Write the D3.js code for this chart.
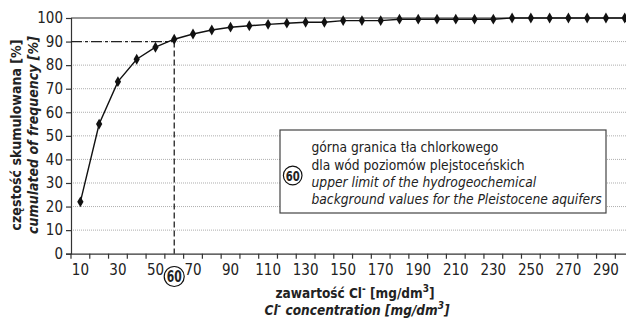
<!DOCTYPE html>
<html>
<head>
  <meta charset="utf-8">
  <script src="https://d3js.org/d3.v7.min.js"></script>
  <style>
    body { margin: 0; background: #fff; }
    svg { display: block; }
    text { font-family: "Liberation Sans Narrow", "DejaVu Sans Condensed", sans-serif; fill: #222; }
  </style>
</head>
<body>

  <svg width="626" height="323"></svg>

  <script>
    // chloride concentration classes [mg/dm3]
    const concentration = [10, 20, 30, 40, 50, 60, 70, 80, 90, 100, 110, 120, 130, 140, 150,
      160, 170, 180, 190, 200, 210, 220, 230, 240, 250, 260, 270, 280, 290, 300];
    // cumulated frequency [%]
    const cumulated = [22, 55, 73, 82.5, 87.6, 91, 93.2, 94.9, 96.1, 96.7, 97.3, 97.8, 98.2, 98.2, 98.9,
      98.9, 98.9, 99.5, 99.5, 99.5, 99.5, 99.5, 99.5, 100, 100, 100, 100, 100, 100, 100];
    const xTickLabels = [10, 30, 50, 70, 90, 110, 130, 150, 170, 190, 210, 230, 250, 270, 290];
    const yTicks = [0, 10, 20, 30, 40, 50, 60, 70, 80, 90, 100];
    const limitValue = 60;
    const limitFreq = 90;

    const svg = d3.select("svg");
    const plotLeft = 71, plotTop = 18, plotBottom = 253.7, step = 18.77;

    const x = d3.scaleBand()
      .domain(concentration)
      .range([plotLeft, plotLeft + step * concentration.length])
      .padding(0);
    const y = d3.scaleLinear().domain([0, 100]).range([plotBottom, plotTop]);
    const cx = d => x(d) + x.bandwidth() / 2;

    // dotted grid
    svg.append("g")
      .selectAll("line")
      .data(yTicks.filter(t => t > 0 && t < 100))
      .join("line")
      .attr("x1", plotLeft).attr("x2", 626)
      .attr("y1", d => y(d)).attr("y2", d => y(d))
      .attr("stroke", "#999")
      .attr("stroke-width", 0.8)
      .attr("stroke-dasharray", "1,1");

    // top line at 100
    svg.append("line")
      .attr("x1", plotLeft).attr("x2", 626)
      .attr("y1", y(100)).attr("y2", y(100))
      .attr("stroke", "#333").attr("stroke-width", 1.2);

    // y axis
    const yAxis = svg.append("g")
      .attr("transform", `translate(${plotLeft},0)`)
      .call(d3.axisLeft(y).tickValues(yTicks).tickSize(5).tickPadding(3));
    yAxis.attr("font-family", null);
    yAxis.select(".domain").attr("stroke", "#333").attr("stroke-width", 1.2);
    yAxis.selectAll(".tick line").attr("stroke", "#333").attr("stroke-width", 1.2);
    yAxis.selectAll(".tick text").attr("font-size", 15).attr("fill", "#333");

    // x axis: ticks on class boundaries, labels every other class
    const xAxis = svg.append("g")
      .attr("transform", `translate(0,${plotBottom})`)
      .call(d3.axisBottom(x).tickSize(0).tickFormat(d => xTickLabels.includes(d) && d !== limitValue ? d : ""));
    xAxis.attr("font-family", null);
    xAxis.select(".domain").attr("stroke", "#333").attr("stroke-width", 1.2);
    xAxis.selectAll(".tick text")
      .attr("font-size", 15).attr("fill", "#333").attr("y", 11);
    xAxis.append("g")
      .selectAll("line")
      .data(concentration)
      .join("line")
      .attr("x1", d => x(d)).attr("x2", d => x(d))
      .attr("y1", 0).attr("y2", 5)
      .attr("stroke", "#333").attr("stroke-width", 1.2);

    // circled 60 marker
    function circled(g, r, fs) {
      g.append("circle").attr("r", r).attr("fill", "#fff").attr("stroke", "#111").attr("stroke-width", 1.2);
      g.append("text").attr("text-anchor", "middle").attr("y", fs * 0.36)
        .attr("transform", "scale(0.8,1)")
        .attr("font-size", fs).attr("font-weight", "bold").attr("fill", "#111").text(limitValue);
    }
    circled(svg.append("g").attr("transform", `translate(${cx(limitValue)},276.5)`), 10, 15);

    // limit lines
    svg.append("line")
      .attr("x1", plotLeft).attr("x2", cx(limitValue))
      .attr("y1", y(limitFreq)).attr("y2", y(limitFreq))
      .attr("stroke", "#222").attr("stroke-width", 1.3)
      .attr("stroke-dasharray", "11,3,3,3");
    svg.append("line")
      .attr("x1", cx(limitValue)).attr("x2", cx(limitValue))
      .attr("y1", y(limitFreq)).attr("y2", plotBottom)
      .attr("stroke", "#222").attr("stroke-width", 1.3)
      .attr("stroke-dasharray", "6,3");

    // annotation box
    const box = svg.append("g");
    box.append("rect")
      .attr("x", 280).attr("y", 130).attr("width", 326).attr("height", 83)
      .attr("fill", "#fff").attr("stroke", "#444").attr("stroke-width", 1.2);
    circled(box.append("g").attr("transform", "translate(292.7,175.5)"), 9.3, 14);
    const lines = [
      ["górna granica tła chlorkowego", "normal", 151.5],
      ["dla wód poziomów plejstoceńskich", "normal", 169.5],
      ["upper limit of the hydrogeochemical", "italic", 186.5],
      ["background values for the Pleistocene aquifers", "italic", 203.5]
    ];
    box.selectAll("text.note")
      .data(lines)
      .join("text")
      .attr("class", "note")
      .attr("x", 311.5).attr("y", d => d[2])
      .attr("font-size", 13.7).attr("font-style", d => d[1])
      .text(d => d[0]);

    // data line and diamonds
    svg.append("path")
      .datum(concentration.map((c, i) => [cx(c), y(cumulated[i])]))
      .attr("fill", "none").attr("stroke", "#111").attr("stroke-width", 1.4)
      .attr("d", d3.line());
    svg.append("g")
      .selectAll("path")
      .data(concentration)
      .join("path")
      .attr("transform", (d, i) => `translate(${cx(d)},${y(cumulated[i])})`)
      .attr("d", d3.symbol(d3.symbolDiamond, 34))
      .attr("fill", "#111");

    // axis titles
    const yt = svg.append("text")
      .attr("transform", "translate(0,135) rotate(-90)")
      .attr("text-anchor", "middle").attr("font-size", 14).attr("font-weight", "bold");
    yt.append("tspan").attr("x", 0).attr("y", 21).text("częstość skumulowana [%]");
    yt.append("tspan").attr("x", 0).attr("y", 38).attr("font-style", "italic").text("cumulated of frequency [%]");

    function sup(t, s) {
      t.append("tspan").attr("dy", -6).attr("font-size", 10).text(s);
    }
    const xt1 = svg.append("text").attr("x", 355).attr("y", 298)
      .attr("text-anchor", "middle").attr("font-size", 13.5).attr("font-weight", "bold");
    xt1.append("tspan").text("zawartość Cl");
    sup(xt1, "-");
    xt1.append("tspan").attr("dy", 6).text(" [mg/dm");
    sup(xt1, "3");
    xt1.append("tspan").attr("dy", 6).text("]");

    const xt2 = svg.append("text").attr("x", 357).attr("y", 315)
      .attr("text-anchor", "middle").attr("font-size", 13.5).attr("font-weight", "bold").attr("font-style", "italic");
    xt2.append("tspan").text("Cl");
    sup(xt2, "-");
    xt2.append("tspan").attr("dy", 6).text(" concentration [mg/dm");
    sup(xt2, "3");
    xt2.append("tspan").attr("dy", 6).text("]");
  </script>
</body>
</html>
